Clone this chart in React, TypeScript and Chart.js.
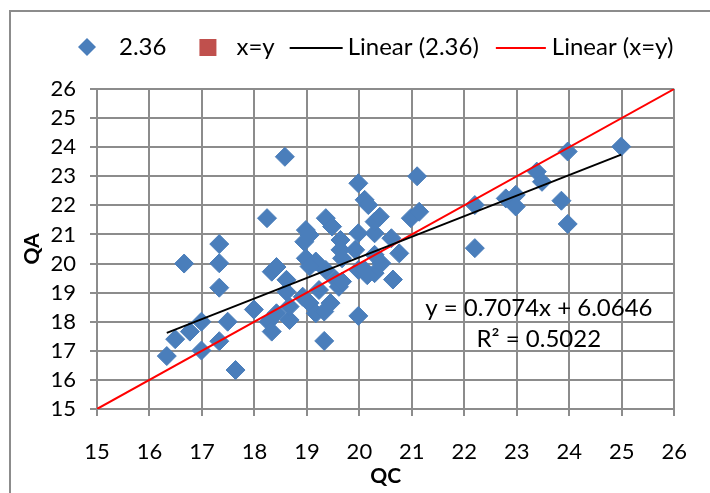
import { useEffect, useRef } from "react";
import { Chart, registerables } from "chart.js";

Chart.register(...registerables);

// QC / QA pairs of the "2.36" series
const qcValues = [
  16.33, 16.49, 16.66, 16.77, 16.99, 16.99, 17.33, 17.33, 17.33, 17.33,
  17.49, 17.64, 17.99, 18.24, 18.27, 18.33, 18.42, 18.33, 18.42, 18.58,
  18.61, 18.61, 18.67, 18.67, 18.92, 18.95, 18.98, 19.05, 18.98, 19.17,
  19.05, 19.05, 19.17, 19.33, 19.33, 19.23, 19.36, 19.36, 19.48, 19.45,
  19.55, 19.61, 19.67, 19.64, 19.64, 19.67, 19.92, 19.98, 19.98, 19.98,
  19.98, 20.1, 20.17, 20.1, 20.29, 20.15, 20.29, 20.29, 20.29, 20.39,
  20.42, 20.61, 20.76, 20.64, 20.98, 21.14, 21.1, 22.2, 22.2, 22.79,
  22.98, 22.98, 23.38, 23.48, 23.85, 23.97, 23.97, 24.99,
];
const qaValues = [
  16.82, 17.4, 20.0, 17.66, 18.0, 17.01, 20.67, 20.01, 19.17, 17.33,
  18.0, 16.34, 18.42, 21.56, 18.0, 17.66, 18.29, 19.72, 19.88, 23.67,
  19.03, 19.44, 18.06, 18.52, 18.86, 20.75, 21.15, 20.98, 20.18, 20.07,
  19.9, 18.64, 18.29, 18.35, 17.34, 19.09, 19.78, 21.56, 21.27, 18.64,
  19.44, 19.2, 19.38, 20.81, 20.47, 20.18, 20.47, 21.04, 22.76, 19.78,
  18.2, 22.19, 22.01, 19.78, 19.67, 19.6, 20.3, 21.04, 21.44, 21.61,
  20.01, 20.87, 20.35, 19.45, 21.56, 21.78, 23.0, 22.01, 20.53, 22.24,
  22.36, 21.96, 23.16, 22.81, 22.16, 23.85, 21.36, 24.02,
];

// Axis range shared by QC and QA
const axisMin = 15;
const axisMax = 26;

const seriesName = "2.36";
const identityName = "x=y";
const trendName = "Linear (2.36)";
const identityTrendName = "Linear (x=y)";

// Least-squares fit of QA on QC
const trendSlope = 0.7074;
const trendIntercept = 6.0646;
const rSquared = 0.5022;

const FONT = "Lato, 'Open Sans', sans-serif";
const BLUE = "#4A7EBB";
const SQUARE_RED = "#C0504D";
const LINE_RED = "#FF0000";
const GRID = "#8C8C8C";

const framePlugin = {
  id: "frame",
  beforeDraw(chart: Chart) {
    const ctx = chart.ctx;
    ctx.save();
    ctx.fillStyle = "#ffffff";
    ctx.fillRect(0, 0, chart.width, chart.height);
    ctx.strokeStyle = "#8C8C8C";
    ctx.lineWidth = 2;
    ctx.strokeRect(10, 11, chart.width + 20, chart.height + 20);
    ctx.restore();
  },
};

const legendPlugin = {
  id: "topLegend",
  afterDraw(chart: Chart) {
    const ctx = chart.ctx;
    const y = 47;
    ctx.save();
    ctx.font = `24px ${FONT}`;
    ctx.fillStyle = "#000";
    ctx.textBaseline = "middle";
    ctx.textAlign = "left";
    let x = 78;

    // diamond marker
    ctx.fillStyle = BLUE;
    ctx.beginPath();
    ctx.moveTo(x, y);
    ctx.lineTo(x + 9, y - 9);
    ctx.lineTo(x + 18, y);
    ctx.lineTo(x + 9, y + 9);
    ctx.closePath();
    ctx.fill();
    x += 41;
    ctx.fillStyle = "#000";
    ctx.fillText(seriesName, x, y);
    x += ctx.measureText(seriesName).width + 33;

    // square marker
    ctx.fillStyle = SQUARE_RED;
    ctx.fillRect(x, y - 8, 17, 17);
    x += 37;
    ctx.fillStyle = "#000";
    ctx.fillText(identityName, x, y);
    x += ctx.measureText(identityName).width + 15;

    // black trend line
    ctx.strokeStyle = "#000";
    ctx.lineWidth = 2;
    ctx.beginPath();
    ctx.moveTo(x, y + 1);
    ctx.lineTo(x + 53, y + 1);
    ctx.stroke();
    x += 58;
    ctx.fillText(trendName, x, y);
    x += ctx.measureText(trendName).width + 17;

    // red trend line
    ctx.strokeStyle = LINE_RED;
    ctx.beginPath();
    ctx.moveTo(x, y + 1);
    ctx.lineTo(x + 50, y + 1);
    ctx.stroke();
    x += 56;
    ctx.fillText(identityTrendName, x, y);

    // regression equation
    const xs = chart.scales.x;
    const ys = chart.scales.y;
    const cx = xs.getPixelForValue(23.42);
    ctx.textAlign = "center";
    ctx.fillText(
      `y = ${trendSlope.toFixed(4)}x + ${trendIntercept.toFixed(4)}`,
      cx,
      ys.getPixelForValue(18.47)
    );
    ctx.fillText(`R\u00B2 = ${rSquared.toFixed(4)}`, cx, ys.getPixelForValue(17.41));
    ctx.restore();
  },
};

export default function App() {
  const canvasRef = useRef<HTMLCanvasElement | null>(null);

  useEffect(() => {
    const canvas = canvasRef.current;
    if (!canvas) return;
    const points = qcValues.map((qc, i) => ({ x: qc, y: qaValues[i] }));
    const minQc = Math.min(...qcValues);
    const maxQc = Math.max(...qcValues);
    const trendPoints = [minQc, maxQc].map((v) => ({
      x: v,
      y: trendSlope * v + trendIntercept,
    }));
    const identityPoints = [axisMin, axisMax].map((v) => ({ x: v, y: v }));

    const ticks = {
      color: "#000",
      font: { family: FONT, size: 22 },
      stepSize: 1,
      autoSkip: false,
      maxRotation: 0,
    };

    const chart = new Chart(canvas, {
      type: "scatter",
      data: {
        datasets: [
          {
            label: identityTrendName,
            data: identityPoints,
            showLine: true,
            borderColor: LINE_RED,
            borderWidth: 2,
            pointRadius: 0,
            order: 1,
          },
          {
            label: trendName,
            data: trendPoints,
            showLine: true,
            borderColor: "#000",
            borderWidth: 2,
            pointRadius: 0,
            order: 0,
          },
          {
            label: seriesName,
            data: points,
            pointStyle: "rectRot",
            pointRadius: 9.5,
            backgroundColor: BLUE,
            borderColor: BLUE,
            borderWidth: 1,
            order: 2,
          },
        ],
      },
      options: {
        responsive: false,
        animation: false,
        layout: { padding: { top: 89, right: 13, left: 0, bottom: 0 } },
        plugins: { legend: { display: false }, tooltip: { enabled: false } },
        scales: {
          x: {
            type: "linear",
            min: axisMin,
            max: axisMax,
            ticks: { ...ticks, padding: 23 },
            grid: { color: GRID, lineWidth: 2, tickLength: 7 },
            border: { color: GRID, width: 2 },
            title: {
              display: true,
              text: "QC",
              color: "#000",
              font: { family: FONT, size: 21, weight: "bold" },
              padding: 4,
            },
            afterFit(scale: any) {
              scale.height = 84;
            },
          },
          y: {
            type: "linear",
            min: axisMin,
            max: axisMax,
            ticks: { ...ticks, padding: 14 },
            grid: { color: GRID, lineWidth: 2, tickLength: 7 },
            border: { color: GRID, width: 2 },
            title: {
              display: true,
              text: "QA",
              color: "#000",
              font: { family: FONT, size: 21, weight: "bold" },
              padding: 20,
            },
            afterFit(scale: any) {
              scale.width = 97;
            },
          },
        },
      },
      plugins: [framePlugin, legendPlugin],
    });
    return () => chart.destroy();
  }, []);

  return (
    <div style={{ position: "absolute", left: 0, top: 0, width: 710, height: 493 }}>
      <canvas ref={canvasRef} width={710} height={493} style={{ display: "block" }} />
    </div>
  );
}
